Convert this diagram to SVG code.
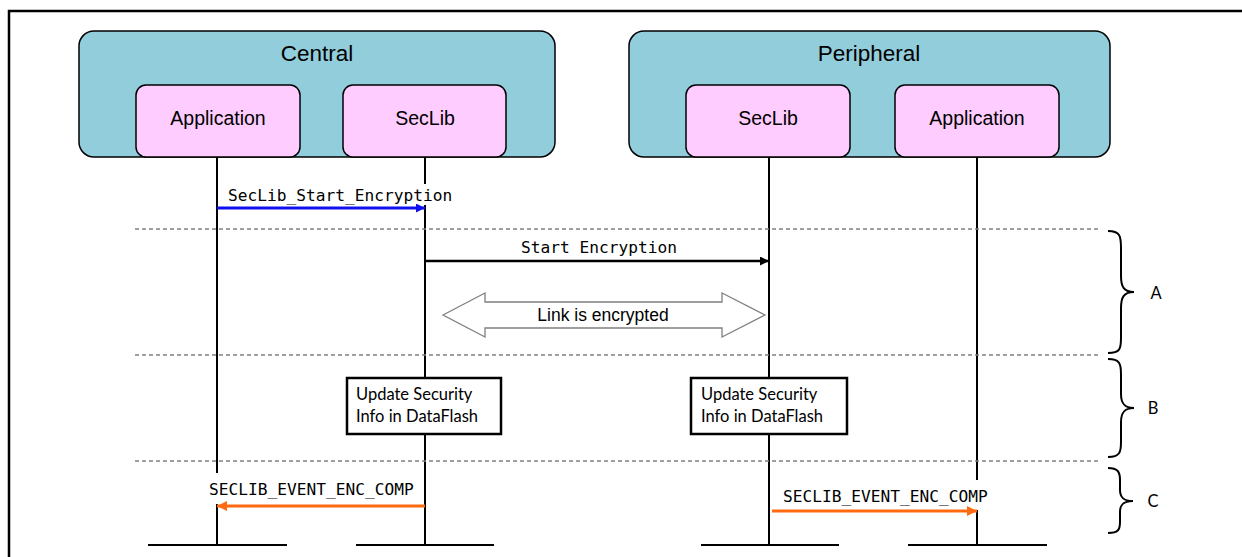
<svg xmlns="http://www.w3.org/2000/svg" width="1242" height="557" viewBox="0 0 1242 557">
<style>
.grp{fill:#92CDDC;stroke:#000;stroke-width:1.5}
.mod{fill:#FFCCFF;stroke:#000;stroke-width:1.5}
.t1{font-family:"Liberation Sans",Arial,sans-serif;font-size:22.5px;fill:#000;text-anchor:middle}
.t2{font-family:"Liberation Sans",Arial,sans-serif;font-size:19.5px;fill:#000;text-anchor:middle}
.mono{font-family:"DejaVu Sans Mono","Liberation Mono",monospace;font-size:16.2px;fill:#000}
.cal{font-family:Lato,"Liberation Sans",sans-serif;font-size:16.5px;fill:#000}
.life{stroke:#000;stroke-width:2;fill:none}
.dash{stroke:#808080;stroke-width:1.3;stroke-dasharray:4 3;fill:none}
.brace{stroke:#000;stroke-width:2;fill:none}
.proc{fill:#fff;stroke:#000;stroke-width:2.5}
</style>
<defs>
<marker id="ab" viewBox="0 0 10 10" refX="10" refY="5" markerWidth="9" markerHeight="9" markerUnits="userSpaceOnUse" orient="auto"><path d="M0,0 L10,5 L0,10 z" fill="#1010F0"/></marker>
<marker id="ak" viewBox="0 0 10 10" refX="10" refY="5" markerWidth="9" markerHeight="9" markerUnits="userSpaceOnUse" orient="auto"><path d="M0,0 L10,5 L0,10 z" fill="#000"/></marker>
<marker id="ao" viewBox="0 0 10 10" refX="10" refY="5" markerWidth="10" markerHeight="10" markerUnits="userSpaceOnUse" orient="auto"><path d="M0,0 L10,5 L0,10 z" fill="#FF6A10"/></marker>
</defs>
<rect width="1242" height="557" fill="#fff"/>
<path d="M9,557 V11 H1242" fill="none" stroke="#000" stroke-width="2.5"/>

<g id="central">
<rect class="grp" x="79" y="31" width="476" height="126" rx="15"/>
<text class="t1" x="317" y="61">Central</text>
</g>
<g id="peripheral">
<rect class="grp" x="629" y="31" width="481" height="126" rx="15"/>
<text class="t1" x="869" y="61">Peripheral</text>
</g>

<g id="lifelines">
<path class="life" d="M217,157 V473 M217,504 V545"/>
<path class="life" d="M425,157 V184 M425,205 V545"/>
<path class="life" d="M769,157 V545"/>
<path class="life" d="M977,157 V480 M977,510 V545"/>
<path class="life" d="M148,545 H287 M356,545 H494 M701,545 H839 M908,545 H1047"/>
</g>

<g id="c_app"><rect class="mod" x="136" y="85" width="164" height="72" rx="10"/><text class="t2" x="218" y="125">Application</text></g>
<g id="c_seclib"><rect class="mod" x="343" y="85" width="163" height="72" rx="10"/><text class="t2" x="425" y="125">SecLib</text></g>
<g id="p_seclib"><rect class="mod" x="686" y="85" width="164" height="72" rx="10"/><text class="t2" x="768" y="125">SecLib</text></g>
<g id="p_app"><rect class="mod" x="895" y="85" width="164" height="72" rx="10"/><text class="t2" x="977" y="125">Application</text></g>

<g id="separators">
<path class="dash" d="M135,229 H1100 M135,355 H1100 M135,461 H1100"/>
</g>

<g id="connectors">
<line x1="217" y1="208" x2="425" y2="208" stroke="#1010F0" stroke-width="3" marker-end="url(#ab)"/>
<text class="mono" x="228" y="201">SecLib_Start_Encryption</text>
<line x1="425" y1="261" x2="769" y2="261" stroke="#000" stroke-width="2.5" marker-end="url(#ak)"/>
<text class="mono" x="599" y="253" text-anchor="middle">Start Encryption</text>
<line x1="425" y1="506" x2="217" y2="506" stroke="#FF6A10" stroke-width="3" marker-end="url(#ao)"/>
<text class="mono" x="209" y="495">SECLIB_EVENT_ENC_COMP</text>
<line x1="772" y1="511" x2="977" y2="511" stroke="#FF6A10" stroke-width="3" marker-end="url(#ao)"/>
<text class="mono" x="783" y="502">SECLIB_EVENT_ENC_COMP</text>
</g>

<g id="link">
<path d="M443,315 L485,293 L485,302 L722,302 L722,293 L765,315 L722,337 L722,328 L485,328 L485,337 Z" fill="#fff" stroke="#7F7F7F" stroke-width="1.3"/>
<text x="603" y="321" font-family="Liberation Sans,Arial,sans-serif" font-size="17.5" text-anchor="middle">Link is encrypted</text>
</g>

<g id="c_update">
<rect class="proc" x="347" y="378" width="154" height="56"/>
<text class="cal" x="356" y="400">Update Security</text>
<text class="cal" x="356" y="422">Info in DataFlash</text>
</g>
<g id="p_update">
<rect class="proc" x="691" y="378" width="156" height="56"/>
<text class="cal" x="701" y="400">Update Security</text>
<text class="cal" x="701" y="422">Info in DataFlash</text>
</g>

<g id="braces">
<path class="brace" d="M1108,231 C1120,231 1121,236 1121,248 V276 C1121,287 1124,292 1134,292 C1124,292 1121,297 1121,308 V338 C1121,349 1120,353 1108,353"/>
<path class="brace" d="M1108,359 C1120,359 1121,364 1121,374 V394 C1121,403 1124,408 1134,408 C1124,408 1121,413 1121,422 V442 C1121,452 1120,457 1108,457"/>
<path class="brace" d="M1108,468 C1118,468 1120,472 1120,480 V490 C1120,497 1123,501 1133,501 C1123,501 1120,505 1120,512 V522 C1120,530 1118,533 1108,533"/>
<text class="cal" x="1156" y="299" text-anchor="middle" font-size="17">A</text>
<text class="cal" x="1153" y="414" text-anchor="middle" font-size="17">B</text>
<text class="cal" x="1153" y="507" text-anchor="middle" font-size="17">C</text>
</g>
</svg>
